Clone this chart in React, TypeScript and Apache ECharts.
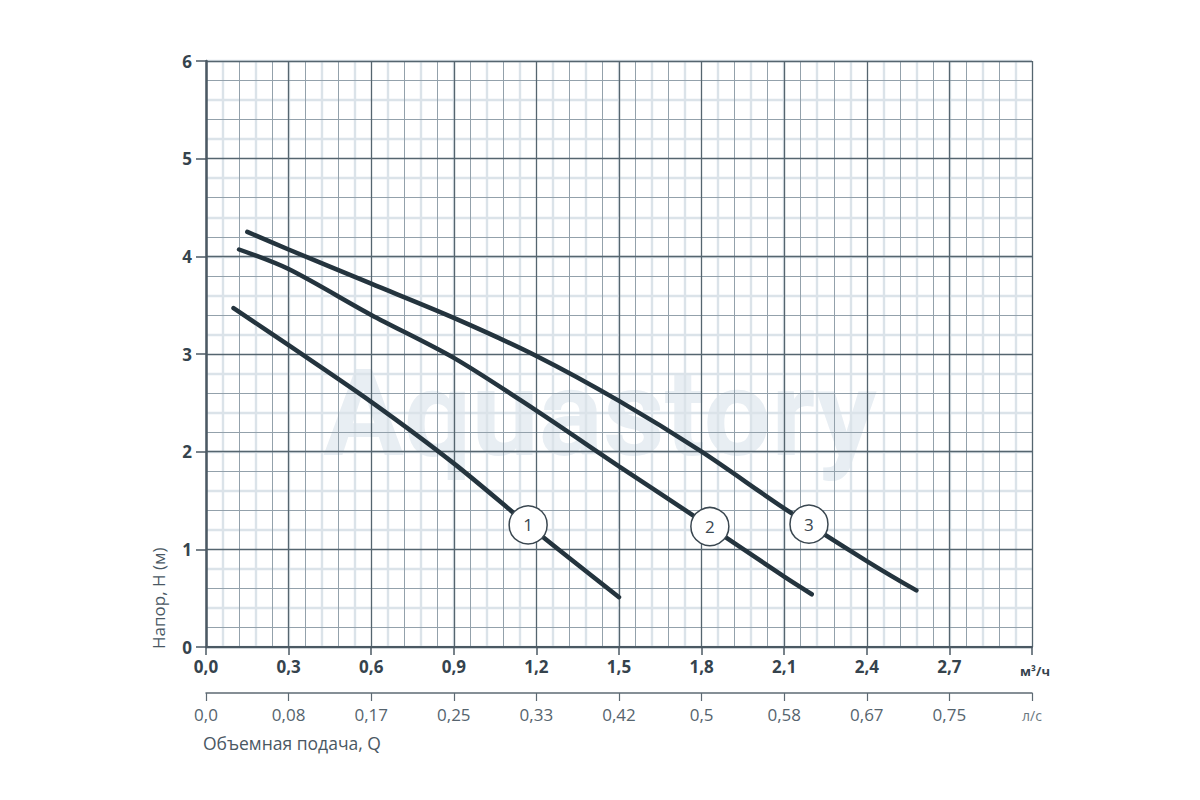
import React, { useEffect, useRef } from 'react'
import * as echarts from 'echarts'

// Расход, м³/ч, и напор, м
const curve1Q = [0.1, 0.3, 0.6, 0.9, 1.2, 1.5]
const curve1H = [3.47, 3.09, 2.51, 1.88, 1.18, 0.51]

const curve2Q = [0.12, 0.3, 0.6, 0.9, 1.2, 1.5, 1.8, 2.1, 2.2]
const curve2H = [4.07, 3.87, 3.4, 2.96, 2.42, 1.85, 1.29, 0.72, 0.54]

const curve3Q = [0.15, 0.3, 0.6, 0.9, 1.2, 1.5, 1.8, 2.1, 2.4, 2.58]
const curve3H = [4.25, 4.07, 3.72, 3.37, 2.98, 2.52, 2.0, 1.42, 0.88, 0.58]

const curveNames = ['1', '2', '3']
const labelQ = [1.17, 1.83, 2.19]

const m3hLabels = ['0,0', '0,3', '0,6', '0,9', '1,2', '1,5', '1,8', '2,1', '2,4', '2,7']
const lsLabels = ['0,0', '0,08', '0,17', '0,25', '0,33', '0,42', '0,5', '0,58', '0,67', '0,75']
const m3hUnit = 'м³/ч'
const lsUnit = 'л/с'

const LINE = '#24343e'
const MAJOR = '#55656f'
const MINOR_DARK = '#93a1ab'
const MINOR_LIGHT = '#dbe3e9'
const NONE = 'rgba(0,0,0,0)'
const FONT = '"Open Sans", "Noto Sans", sans-serif'

const interpH = (qs: number[], hs: number[], q: number) => {
    for (let i = 1; i < qs.length; i++) {
        if (q <= qs[i]) {
            const t = (q - qs[i - 1]) / (qs[i] - qs[i - 1])
            return hs[i - 1] + t * (hs[i] - hs[i - 1])
        }
    }
    return hs[hs.length - 1]
}

const App: React.FC = () => {
    const chartRef = useRef<HTMLDivElement>(null)

    useEffect(() => {
        const chart = echarts.init(chartRef.current, null, { renderer: 'svg' })

        const curves = [
            [curve1Q, curve1H],
            [curve2Q, curve2H],
            [curve3Q, curve3H],
        ]

        const hiddenX = (interval: number, colors: string[], width: number, z: number) => ({
            type: 'value',
            min: 0,
            max: 3,
            interval,
            z,
            axisLine: { show: false },
            axisTick: { show: false },
            axisLabel: { show: false },
            splitLine: { show: true, lineStyle: { color: colors, width } },
        })

        const hiddenY = (interval: number, colors: string[], width: number, z: number) => ({
            type: 'value',
            min: 0,
            max: 6,
            interval,
            z,
            axisLine: { show: false },
            axisTick: { show: false },
            axisLabel: { show: false },
            splitLine: { show: true, lineStyle: { color: colors, width } },
        })

        const option = {
            animation: false,
            backgroundColor: '#ffffff',
            grid: { left: 206, top: 61, width: 826, height: 586 },
            xAxis: [
                {
                    type: 'value',
                    min: 0,
                    max: 3,
                    interval: 0.3,
                    position: 'bottom',
                    z: 3,
                    axisLine: { show: true, onZero: false, lineStyle: { color: '#4b5963', width: 2 } },
                    axisTick: { show: true, length: 8, lineStyle: { color: '#4b5963', width: 1.5 } },
                    axisLabel: {
                        margin: 11,
                        formatter: (v: number) => {
                            const i = Math.round(v / 0.3)
                            return i < m3hLabels.length ? `{b|${m3hLabels[i]}}` : `{u|${m3hUnit}}`
                        },
                        rich: {
                            b: { fontFamily: FONT, fontWeight: 'bold', fontSize: 17, color: '#35434d' },
                            u: { fontFamily: FONT, fontWeight: 'bold', fontSize: 13, color: '#35434d', padding: [6, 0, 0, 6] },
                        },
                    },
                    splitLine: { show: true, lineStyle: { color: MAJOR, width: 1.3 } },
                },
                {
                    type: 'value',
                    min: 0,
                    max: 3,
                    interval: 0.3,
                    position: 'bottom',
                    offset: 46,
                    z: 3,
                    axisLine: { show: true, onZero: false, lineStyle: { color: '#5d6a73', width: 1.5 } },
                    axisTick: { show: true, length: 8, lineStyle: { color: '#5d6a73', width: 1.2 } },
                    axisLabel: {
                        margin: 13,
                        formatter: (v: number) => {
                            const i = Math.round(v / 0.3)
                            return i < lsLabels.length ? `{n|${lsLabels[i]}}` : `{u|${lsUnit}}`
                        },
                        rich: {
                            n: { fontFamily: FONT, fontSize: 17, color: '#56646e' },
                            u: { fontFamily: FONT, fontSize: 14, color: '#6a7780', padding: [2, 0, 0, 0] },
                        },
                    },
                    splitLine: { show: false },
                },
                hiddenX(0.06, [NONE, MINOR_LIGHT], 2.4, 0),
                hiddenX(0.06, [MINOR_DARK, NONE], 1, 1),
            ],
            yAxis: [
                {
                    type: 'value',
                    min: 0,
                    max: 6,
                    interval: 1,
                    z: 3,
                    axisLine: { show: true, onZero: false, lineStyle: { color: '#4b5963', width: 2.5 } },
                    axisTick: { show: true, length: 10, lineStyle: { color: '#4b5963', width: 1.5 } },
                    axisLabel: {
                        margin: 14,
                        fontFamily: FONT,
                        fontWeight: 'bold',
                        fontSize: 17,
                        color: '#35434d',
                    },
                    splitLine: { show: true, lineStyle: { color: MAJOR, width: 1.3 } },
                },
                hiddenY(0.2, [MINOR_LIGHT, NONE], 2.4, 0),
                hiddenY(0.2, [NONE, MINOR_DARK], 1, 1),
            ],
            graphic: [
                {
                    type: 'text',
                    x: 600,
                    y: 414,
                    z: -1,
                    silent: true,
                    style: {
                        text: 'Aquastory',
                        font: 'bold 120px Roboto, sans-serif',
                        fill: '#e8eef3',
                        align: 'center',
                        verticalAlign: 'middle',
                    },
                },
                {
                    type: 'text',
                    x: 158,
                    y: 649,
                    rotation: Math.PI / 2,
                    style: {
                        text: 'Напор, H (м)',
                        font: `17px ${FONT}`,
                        fill: '#4a5863',
                        align: 'left',
                        verticalAlign: 'middle',
                    },
                },
                {
                    type: 'text',
                    x: 203,
                    y: 743,
                    style: {
                        text: 'Объемная подача, Q',
                        font: `17.5px ${FONT}`,
                        fill: '#4a5863',
                        align: 'left',
                        verticalAlign: 'middle',
                    },
                },
            ],
            series: curves.map(([qs, hs], k) => ({
                type: 'line',
                name: curveNames[k],
                xAxisIndex: 0,
                yAxisIndex: 0,
                z: 4,
                smooth: 0.3,
                symbol: 'none',
                data: qs.map((q, i) => [q, hs[i]]),
                lineStyle: { color: LINE, width: 4.5, cap: 'round' },
                markPoint: {
                    z: 20,
                    symbol: 'circle',
                    symbolSize: 38,
                    itemStyle: { color: '#ffffff', borderColor: '#3a4750', borderWidth: 1.5 },
                    label: {
                        show: true,
                        position: 'inside',
                        formatter: '{b}',
                        fontFamily: FONT,
                        fontSize: 17,
                        color: '#3a4750',
                    },
                    data: [
                        {
                            name: curveNames[k],
                            coord: [labelQ[k], interpH(qs, hs, labelQ[k])],
                            itemStyle: { color: '#ffffff', borderColor: '#3a4750', borderWidth: 1.5 },
                        },
                    ],
                },
            })),
        }

        chart.setOption(option)

        return () => {
            chart.dispose()
        }
    }, [])

    return <div ref={chartRef} style={{ position: 'fixed', left: 0, top: 0, width: '1200px', height: '800px' }} />
}

export default App
